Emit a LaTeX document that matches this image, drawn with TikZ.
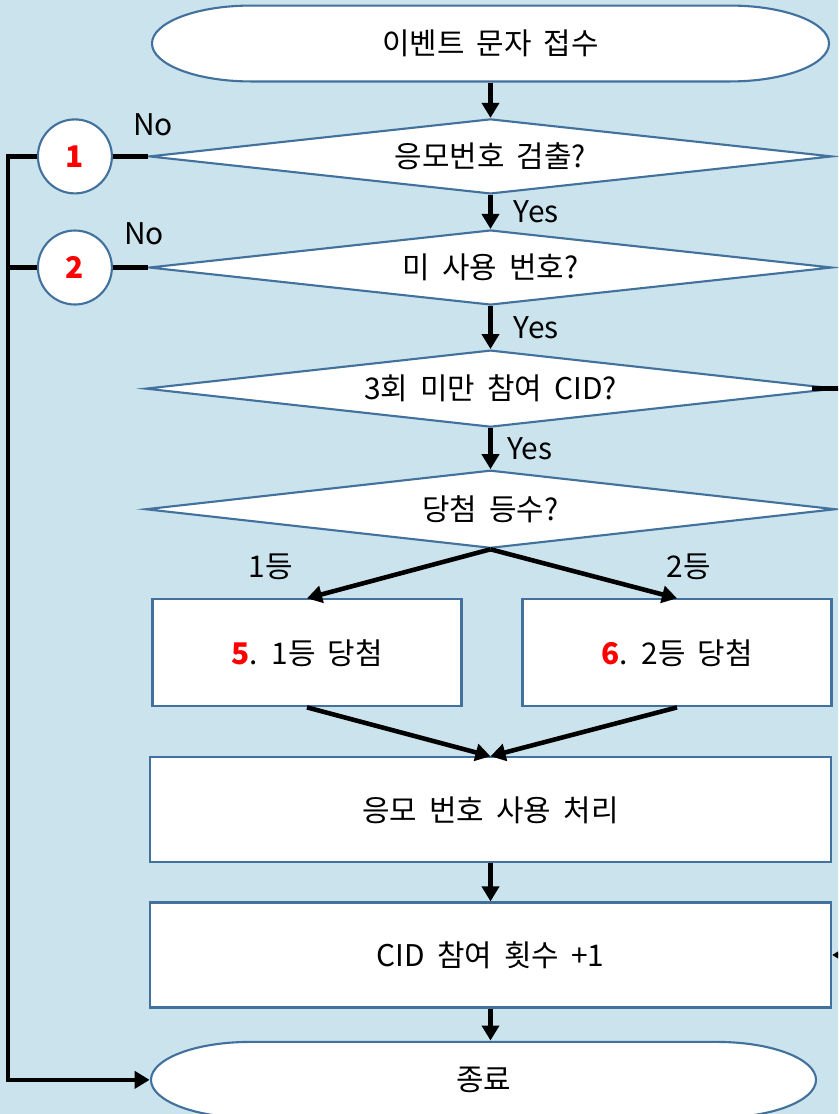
\documentclass[tikz,border=0pt]{standalone}
\usepackage{fontspec}
\setmainfont{Noto Sans CJK KR}[WordSpace=1.8]
\usetikzlibrary{positioning, shapes.geometric, arrows.meta}
\definecolor{bgblue}{RGB}{202,227,236}
\definecolor{lineblue}{RGB}{65,113,156}

\begin{document}
\begin{tikzpicture}[font=\fontsize{17}{20}\selectfont,
  box/.style={draw=lineblue, line width=1.2pt, fill=white, minimum width=6.18cm, minimum height=2.14cm},
  wide box/.style={box, minimum width=13.62cm, minimum height=2.1cm},
  decision/.style={diamond, draw=lineblue, line width=1.2pt, fill=white, aspect=9, inner sep=1pt,
    minimum width=13.66cm, minimum height=1.5cm},
  term/.style={minimum height=1.56cm, inner sep=0pt, path picture={
    \filldraw[draw=lineblue, line width=1.2pt, fill=white]
      ([xshift=2cm, yshift=-0.6pt]path picture bounding box.north west)
      -- ([xshift=-2cm, yshift=-0.6pt]path picture bounding box.north east)
      arc[start angle=90, end angle=-90, x radius=1.98cm, y radius=0.78cm-0.6pt]
      -- ([xshift=2cm, yshift=0.6pt]path picture bounding box.south west)
      arc[start angle=270, end angle=90, x radius=1.98cm, y radius=0.78cm-0.6pt] -- cycle;}},
  num node/.style={circle, draw=lineblue, line width=1.2pt, fill=white, minimum size=1.48cm,
    text=red, font=\fontsize{17}{20}\selectfont\bfseries},
  flow/.style={line width=2.6pt},
  arr/.style={flow, -{Triangle[width=0.34cm, length=0.3cm]}}]

\fill[bgblue] (0,0) rectangle (16.76,-22.28);
\useasboundingbox (0,0) rectangle (16.76,-22.28);
\clip (0,0) rectangle (16.76,-22.28);

\node[term, minimum width=13.58cm] (start) at (9.81,-0.87) {이벤트 문자 접수};
\node[decision] (d1) [below=0.7cm of start] {응모번호 검출?};
\node[decision] (d2) [below=0.68cm of d1] {미 사용 번호?};
\node[decision, minimum width=13.8cm, minimum height=1.54cm] (d3) [below=0.86cm of d2] {3회 미만 참여 CID?};
\node[decision, minimum width=13.8cm, minimum height=1.56cm] (d4) [below=0.82cm of d3] {당첨 등수?};

\node[box] (b5) [below=0.98cm of d4.south, xshift=-3.67cm] {\textcolor{red}{\textbf{5}}. 1등 당첨};
\node[box] (b6) [below=0.98cm of d4.south, xshift=3.73cm] {\textcolor{red}{\textbf{6}}. 2등 당첨};
\node[wide box] (b7) [below=4.14cm of d4.south] {응모 번호 사용 처리};
\node[wide box] (b8) [below=0.76cm of b7] {CID 참여 횟수 +1};
\node[term, minimum width=13.34cm] (fin) [below=0.64cm of b8, xshift=-0.14cm] {종료};

\node[num node] (c1) [left=0.7cm of d1] {1};
\node[num node] (c2) [left=0.7cm of d2] {2};

\node (l1) [above=0.25cm of b5.north, xshift=-0.73cm] {1등};
\node (l2) [above=0.25cm of b6.north, xshift=0.23cm] {2등};

\coordinate (lt) at (0.16,0 |- c1);
\coordinate (r3) at (17.5,0 |- d3.east);
\coordinate (r8) at (17.5,0 |- b8.east);

% main column
\draw[arr] (start) -- (d1);
\draw[arr] (d1) -- node[right=0.3cm] {Yes} (d2);
\draw[arr] (d2) -- node[right=0.3cm] {Yes} (d3);
\draw[arr] (d3) -- node[right=0.17cm] {Yes} (d4);
\draw[arr] (d4.south) -- (b5.north);
\draw[arr] (d4.south) -- (b6.north);
\draw[arr] (b5.south) -- (b7.north);
\draw[arr] (b6.south) -- (b7.north);
\draw[arr] (b7) -- (b8);
\draw[arr] (b8) -- (b8.south |- fin.north);

% no branches
\draw[flow] (d1.west) -- node[above=0.25cm, xshift=0.45cm] {No} (c1.east);
\draw[flow] (d2.west) -- node[above=0.28cm, xshift=0.27cm] {No} (c2.east);
\draw[arr] (c1.west) -- (lt) |- (fin.west);
\draw[flow] (c2.west) -- (c2.west -| lt);

% right side
\draw[flow] ([xshift=-0.5cm]d3.east) -- (r3);
\draw[arr] (r8) -- (b8.east);
\end{tikzpicture}
\end{document}
